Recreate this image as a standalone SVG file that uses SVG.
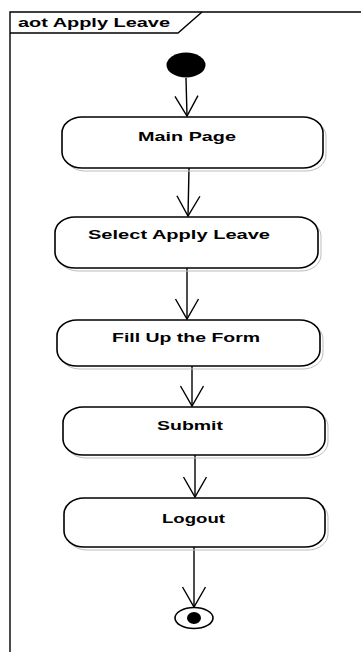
<svg xmlns="http://www.w3.org/2000/svg" width="361" height="652" viewBox="0 0 361 652">
  <style>
    .frame { fill: none; stroke: #000; stroke-width: 1.4; }
    .act { fill: #fff; stroke: #000; stroke-width: 1.6; }
    .shadow { fill: none; stroke: #bdbdbd; stroke-width: 1; }
    .lbl { font-family: "Liberation Sans", Arial, sans-serif; font-weight: bold; font-size: 13.5px; fill: #000; }
    .title { font-family: "Liberation Sans", Arial, sans-serif; font-weight: bold; font-size: 12px; fill: #000; }
    .flow { fill: none; stroke: #000; stroke-width: 1.4; }
  </style>
  <defs>
    <marker id="open-arrow" markerUnits="userSpaceOnUse" viewBox="-22 -13 24 26" refX="0" refY="0" markerWidth="24" markerHeight="26" orient="auto">
      <path d="M-20,-11.5 L0,0 L-20,11.5" fill="none" stroke="#000" stroke-width="1.4"/>
    </marker>
  </defs>
  <rect width="361" height="652" fill="#fff"/>

  <!-- activity frame with name tab -->
  <g id="frame">
    <path class="frame" d="M10,652 L10,12 L361,12"/>
    <path class="frame" d="M10,33 L178,33 L202,12"/>
    <text class="title" x="18" y="26.5" textLength="152" lengthAdjust="spacingAndGlyphs">aot Apply Leave</text>
  </g>

  <!-- control flows -->
  <g id="connectors">
    <path class="flow" d="M186,78 L187,116" marker-end="url(#open-arrow)"/>
    <path class="flow" d="M189,168 L188,216" marker-end="url(#open-arrow)"/>
    <path class="flow" d="M187,268 L187,319" marker-end="url(#open-arrow)"/>
    <path class="flow" d="M192,366 L192,406" marker-end="url(#open-arrow)"/>
    <path class="flow" d="M195,455 L195,497" marker-end="url(#open-arrow)"/>
    <path class="flow" d="M194,547 L194,607" marker-end="url(#open-arrow)"/>
  </g>

  <g id="start">
    <ellipse cx="186" cy="65" rx="19.5" ry="12.5" fill="#000"/>
  </g>

  <g id="main-page">
    <rect class="shadow" x="65" y="120" width="261" height="51" rx="20" ry="16"/>
    <rect class="act" x="62" y="117" width="261" height="51" rx="20" ry="16"/>
    <text class="lbl" x="138" y="140.5" textLength="98" lengthAdjust="spacingAndGlyphs">Main Page</text>
  </g>

  <g id="select-apply-leave">
    <rect class="shadow" x="58" y="220" width="263" height="51" rx="20" ry="16"/>
    <rect class="act" x="55" y="217" width="263" height="51" rx="20" ry="16"/>
    <text class="lbl" x="88" y="239" textLength="182" lengthAdjust="spacingAndGlyphs">Select Apply Leave</text>
  </g>

  <g id="fill-up-form">
    <rect class="shadow" x="60" y="323" width="263" height="46" rx="20" ry="16"/>
    <rect class="act" x="57" y="320" width="263" height="46" rx="20" ry="16"/>
    <text class="lbl" x="112" y="341.5" textLength="148" lengthAdjust="spacingAndGlyphs">Fill Up the Form</text>
  </g>

  <g id="submit">
    <rect class="shadow" x="66" y="410" width="262" height="48" rx="20" ry="16"/>
    <rect class="act" x="63" y="407" width="262" height="48" rx="20" ry="16"/>
    <text class="lbl" x="157" y="429.5" textLength="66" lengthAdjust="spacingAndGlyphs">Submit</text>
  </g>

  <g id="logout">
    <rect class="shadow" x="67" y="501" width="261" height="49" rx="20" ry="16"/>
    <rect class="act" x="64" y="498" width="261" height="49" rx="20" ry="16"/>
    <text class="lbl" x="162" y="522.5" textLength="63" lengthAdjust="spacingAndGlyphs">Logout</text>
  </g>

  <g id="end">
    <ellipse cx="194" cy="618" rx="19" ry="10.5" fill="#fff" stroke="#000" stroke-width="1.6"/>
    <ellipse cx="194" cy="618" rx="7" ry="6" fill="#000"/>
  </g>
</svg>
